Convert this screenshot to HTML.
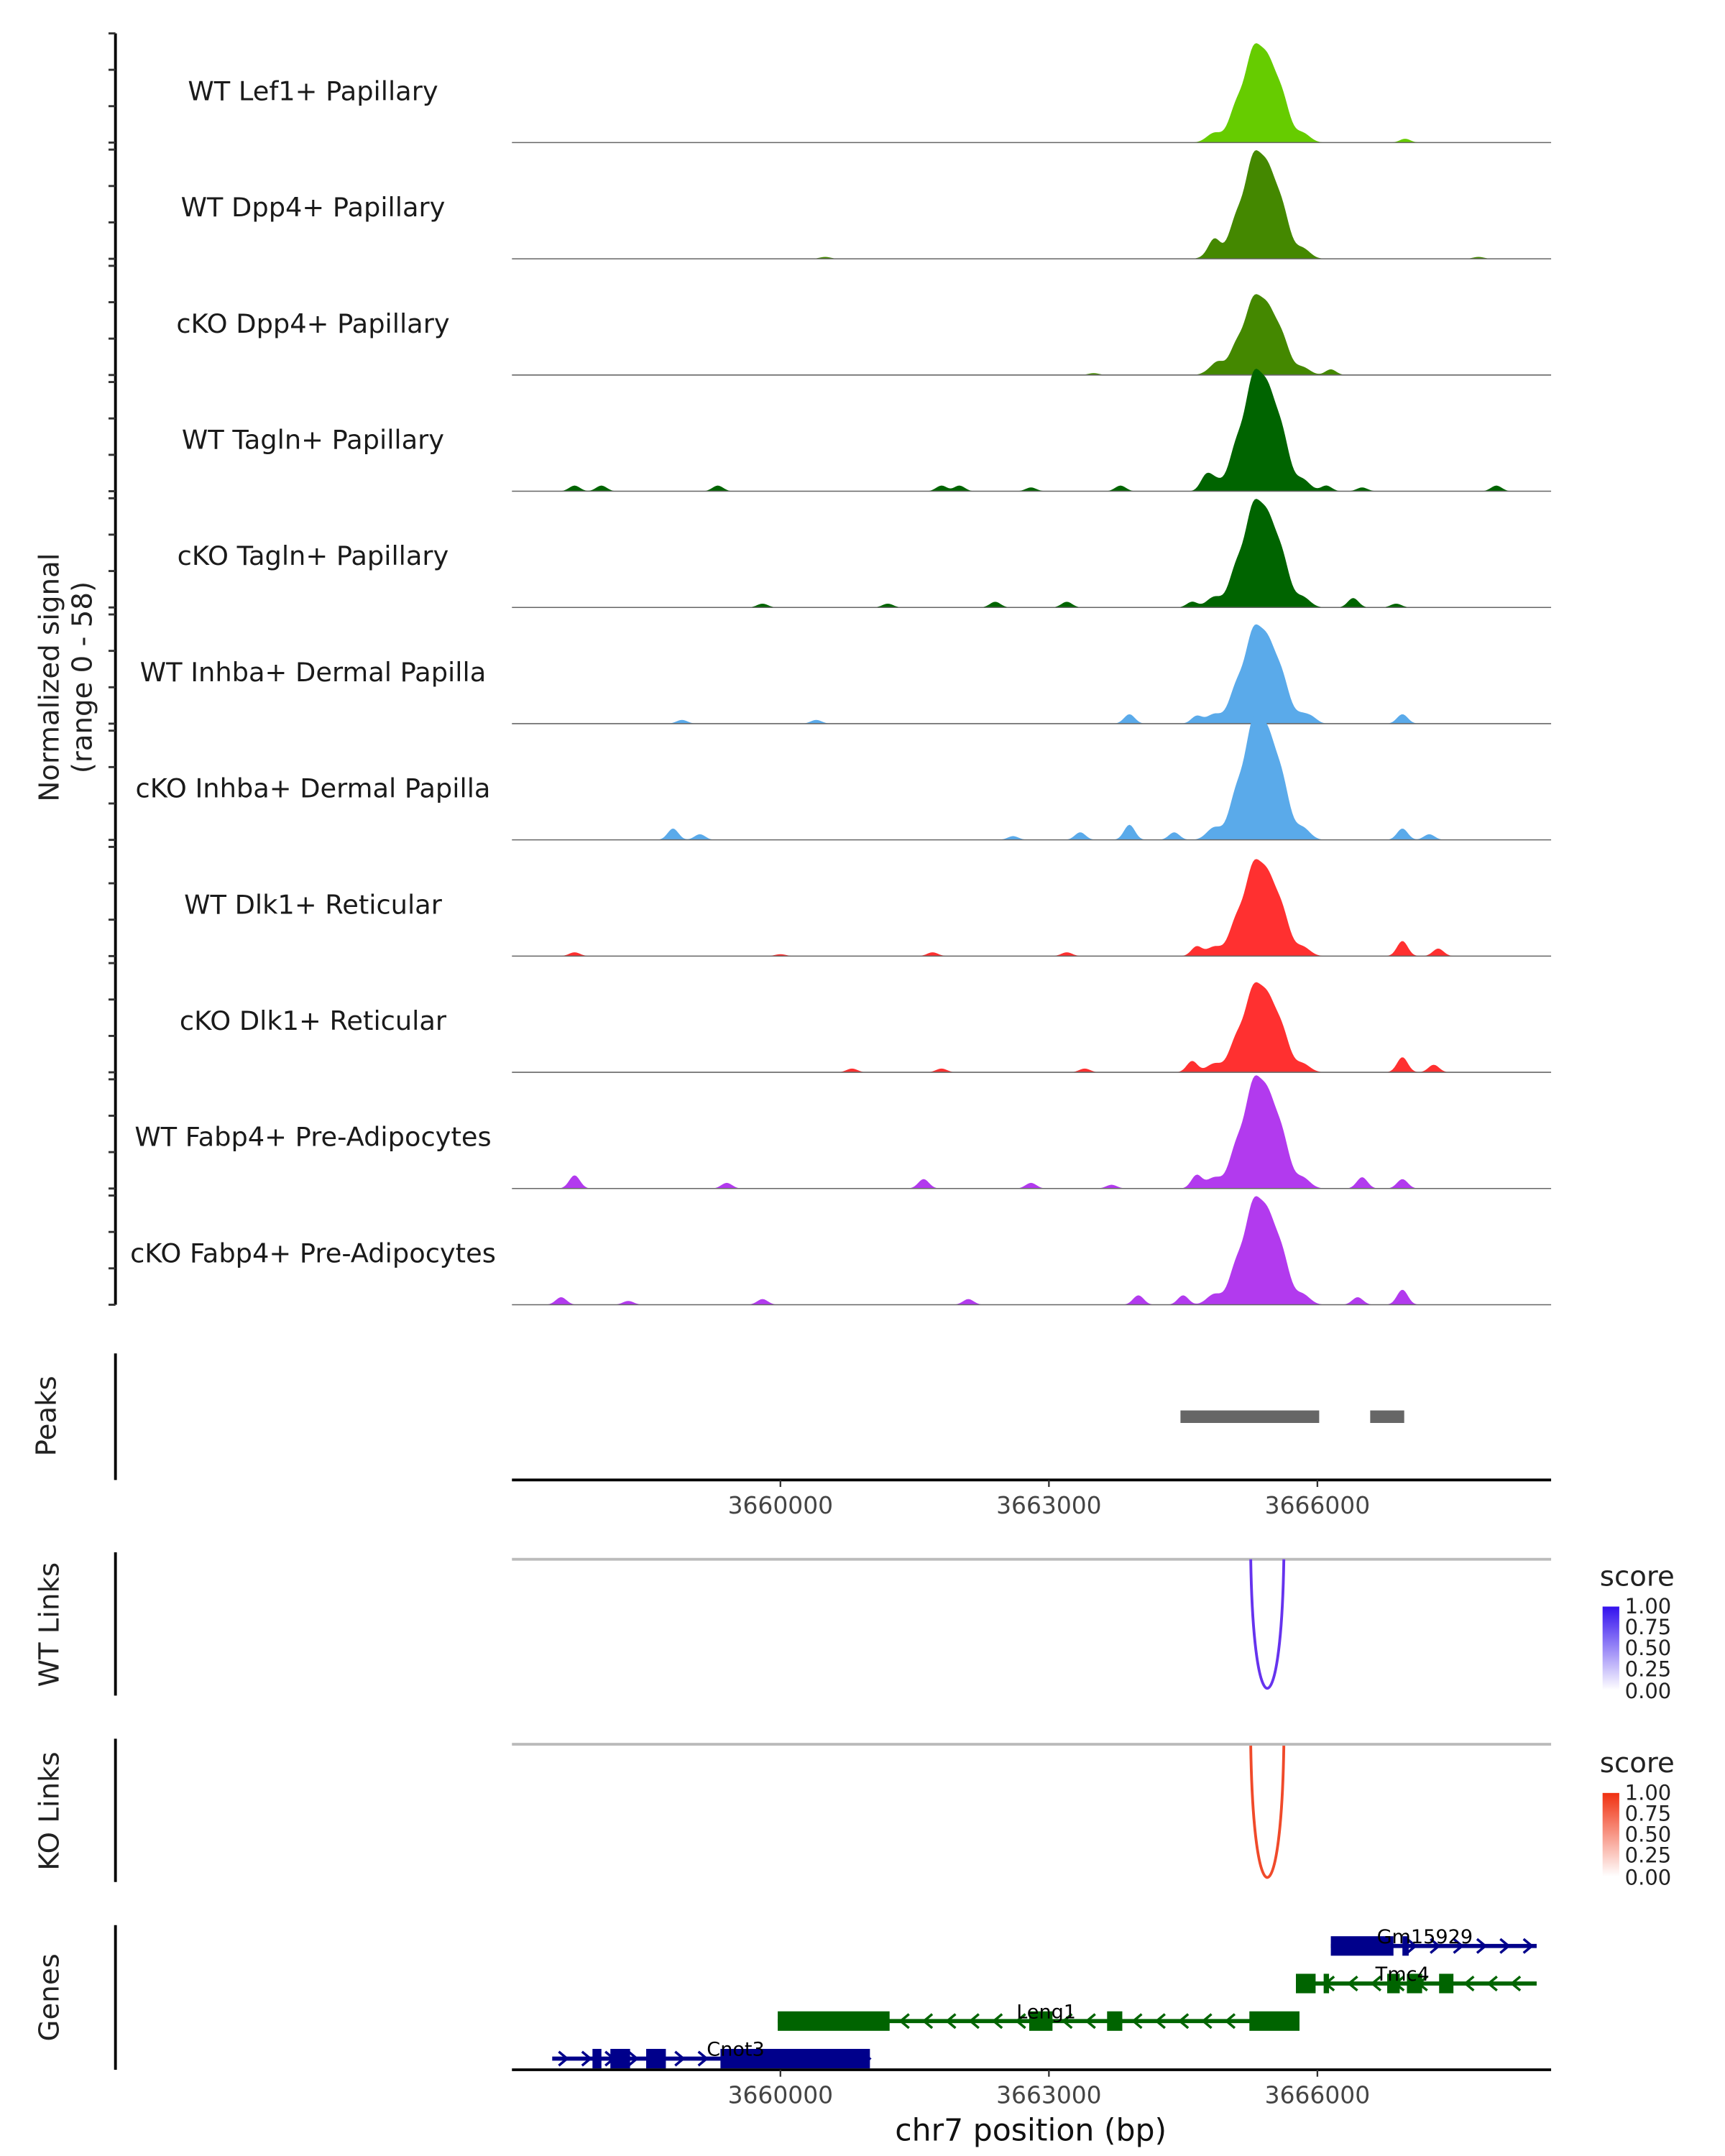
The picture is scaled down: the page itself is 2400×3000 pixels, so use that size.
<!DOCTYPE html>
<html><head><meta charset="utf-8"><style>
html,body{margin:0;padding:0;background:#fff;}
svg{display:block;font-family:"DejaVu Sans","Liberation Sans",sans-serif;}
</style></head><body>
<svg id="fig" width="2400" height="3000" viewBox="0 0 1240 1550" xmlns="http://www.w3.org/2000/svg">
<defs>
<linearGradient id="gb" x1="0" y1="1" x2="0" y2="0"><stop offset="0" stop-color="#ffffff"/><stop offset="1" stop-color="#3311ee"/></linearGradient>
<linearGradient id="gr" x1="0" y1="1" x2="0" y2="0"><stop offset="0" stop-color="#ffffff"/><stop offset="1" stop-color="#f03010"/></linearGradient>
</defs>
<g id="tracks"></g>
<text transform="translate(42,487) rotate(-90)" text-anchor="middle" font-size="20" fill="#222">Normalized signal</text>
<text transform="translate(66,487) rotate(-90)" text-anchor="middle" font-size="20" fill="#222">(range 0 - 58)</text>
<g id="peaks">
<line x1="83" y1="973" x2="83" y2="1064" stroke="#000" stroke-width="2"/>
<text transform="translate(40,1018) rotate(-90)" text-anchor="middle" font-size="20" fill="#222">Peaks</text>
</g>
<g id="xaxis1"></g>
<g id="links">
<line x1="83" y1="1116" x2="83" y2="1219" stroke="#000" stroke-width="2"/>
<text transform="translate(42,1168) rotate(-90)" text-anchor="middle" font-size="20" fill="#222">WT Links</text>
<line x1="368" y1="1121" x2="1115" y2="1121" stroke="#bbb" stroke-width="2"/>
<line x1="83" y1="1250" x2="83" y2="1353" stroke="#000" stroke-width="2"/>
<text transform="translate(42,1302) rotate(-90)" text-anchor="middle" font-size="20" fill="#222">KO Links</text>
<line x1="368" y1="1254" x2="1115" y2="1254" stroke="#bbb" stroke-width="2"/>
</g>
<g font-size="15" fill="#222">
<text x="1150" y="1140" font-size="20">score</text>
<rect x="1152" y="1155" width="12" height="60" fill="url(#gb)"/>
<text x="1168" y="1160">1.00</text><text x="1168" y="1175">0.75</text><text x="1168" y="1190">0.50</text><text x="1168" y="1205">0.25</text><text x="1168" y="1221">0.00</text>
</g>
<g font-size="15" fill="#222">
<text x="1150" y="1274" font-size="20">score</text>
<rect x="1152" y="1289" width="12" height="60" fill="url(#gr)"/>
<text x="1168" y="1294">1.00</text><text x="1168" y="1309">0.75</text><text x="1168" y="1324">0.50</text><text x="1168" y="1339">0.25</text><text x="1168" y="1355">0.00</text>
</g>
<g id="genes">
<line x1="83" y1="1384" x2="83" y2="1488" stroke="#000" stroke-width="2"/>
<text transform="translate(42,1436) rotate(-90)" text-anchor="middle" font-size="20" fill="#222">Genes</text>
</g>
<g id="xaxis2"></g>
<text x="741" y="1539" text-anchor="middle" font-size="22" fill="#111">chr7 position (bp)</text>
</svg>
<script>
const NS="http://www.w3.org/2000/svg";
const trackNames=["WT Lef1+ Papillary","WT Dpp4+ Papillary","cKO Dpp4+ Papillary","WT Tagln+ Papillary","cKO Tagln+ Papillary","WT Inhba+ Dermal Papilla","cKO Inhba+ Dermal Papilla","WT Dlk1+ Reticular","cKO Dlk1+ Reticular","WT Fabp4+ Pre-Adipocytes","cKO Fabp4+ Pre-Adipocytes"];
const trackColors=["#66cc00","#448800","#448800","#006400","#006400","#5aaaea","#5aaaea","#ff3030","#ff3030","#b23aee","#b23aee"];
const mainPeakHeights=[43,47,35,53,47,43,55,42,39,49,47];
const mainPeakPositions=[3664850,3665100,3665280,3665440,3665600,3665830];
const mainPeakShape=[0.12,0.45,1.0,0.85,0.55,0.12];
const bgPeaks=[
 [[3666980,2]],
 [[3664850,5],[3660500,1],[3667800,1]],
 [[3664900,3],[3666150,3],[3663500,1]],
 [[3657700,3],[3658000,3],[3659300,3],[3661800,3],[3662000,3],[3662800,2],[3663800,3],[3664750,6],[3666100,3],[3668000,3],[3666500,2]],
 [[3664600,3],[3663200,3],[3662400,3],[3666400,5],[3666880,2],[3659800,2],[3661200,2]],
 [[3663900,5],[3664650,4],[3665950,2],[3666950,5],[3658900,2],[3660400,2]],
 [[3658800,6],[3659100,3],[3663900,8],[3663350,4],[3664400,4],[3666950,6],[3667250,3],[3662600,2]],
 [[3657700,2],[3664650,5],[3666950,8],[3667350,4],[3660000,1],[3661700,2],[3663200,2]],
 [[3664600,6],[3666950,8],[3667300,4],[3661800,2],[3663400,2],[3660800,2]],
 [[3657700,7],[3661600,5],[3664650,7],[3666500,6],[3666950,5],[3659400,3],[3662800,3],[3663700,2]],
 [[3657550,4],[3664000,5],[3664500,5],[3666950,8],[3666450,4],[3659800,3],[3662100,3],[3658300,2]]
];
const xTicks=[3660000,3663000,3666000];
const peakRegions=[[3664470,3666020],[3666590,3666970]];
const wtLink=[3665255,3665625,1.0];
const koLink=[3665255,3665625,1.0];
const genes=[
 {name:"Gm15929",strand:1,color:"#00008b",row:0,start:3666150,end:3668450,exons:[[3666150,3666850],[3666950,3667020]],label:3667200},
 {name:"Tmc4",strand:-1,color:"#006400",row:1,start:3665760,end:3668450,exons:[[3665760,3665980],[3666070,3666130],[3666780,3666920],[3667000,3667170],[3667360,3667520]],label:3666950},
 {name:"Leng1",strand:-1,color:"#006400",row:2,start:3659970,end:3665800,exons:[[3659970,3661220],[3662780,3663040],[3663650,3663820],[3665240,3665800]],label:3662970},
 {name:"Cnot3",strand:1,color:"#00008b",row:3,start:3657450,end:3661000,exons:[[3657900,3658000],[3658100,3658320],[3658500,3658720],[3659330,3661000]],label:3659500}
];
const X0=368,X1=1115,BP0=3657000,BPPX=3000/193;
function xs(bp){return X0+(bp-BP0)/BPPX;}
const TRACK_TOP=24,TRACK_STEP=83.55,TRACK_H=78.5,YMAX=58;
function ys(v,base){return base-v/YMAX*TRACK_H;}
function el(tag,attrs,parent){const e=document.createElementNS(NS,tag);for(const k in attrs)e.setAttribute(k,attrs[k]);parent.appendChild(e);return e;}
const tg=document.getElementById('tracks');
el('line',{x1:83,y1:TRACK_TOP,x2:83,y2:TRACK_TOP+TRACK_STEP*10+TRACK_H,stroke:'#000','stroke-width':2},tg);
function signalAt(i,bp){
  let v=0;
  const h=mainPeakHeights[i];
  mainPeakPositions.forEach((p,j)=>{const d=(bp-p)/85;v+=h*mainPeakShape[j]*Math.exp(-d*d/2);});
  bgPeaks[i].forEach(b=>{const d=(bp-b[0])/60;v+=b[1]*Math.exp(-d*d/2);});
  return v;
}
trackNames.forEach((name,i)=>{
  const top=TRACK_TOP+i*TRACK_STEP, base=top+TRACK_H;
  const g=el('g',{},tg);
  
  
  for(let k=0;k<4;k++){el('line',{x1:78,x2:83,y1:top+k*TRACK_H/3,y2:top+k*TRACK_H/3,stroke:'#333','stroke-width':1.5},g);}
  const t=el('text',{x:225,y:top+48,'text-anchor':'middle','font-size':19,fill:'#1a1a1a'},g);
  t.textContent=name;
  let d='M'+X0+','+base;
  for(let bp=BP0;bp<=3668611;bp+=20){d+=' L'+xs(bp).toFixed(2)+','+ys(signalAt(i,bp),base).toFixed(2);}
  d+=' L'+X1+','+base+' Z';
  const p=el('path',{d:d,fill:trackColors[i]},g);
  
  
  el('line',{x1:X0,x2:X1,y1:base,y2:base,stroke:'#666','stroke-width':0.8},g);
});
const pg=document.getElementById('peaks');
peakRegions.forEach(r=>{
  const rc=el('rect',{x:xs(r[0]),y:1014,width:xs(r[1])-xs(r[0]),height:9,fill:'#666'},pg);
  
  
});
function axis(id,y,labels){
  const g=document.getElementById(id);
  el('line',{x1:X0,x2:X1,y1:y,y2:y,stroke:'#000','stroke-width':2},g);
  xTicks.forEach(b=>{
    el('line',{x1:xs(b),x2:xs(b),y1:y,y2:y+5,stroke:'#333','stroke-width':1.2},g);
    if(labels){const t=el('text',{x:xs(b),y:y+24,'text-anchor':'middle','font-size':17,fill:'#444'},g);t.textContent=b;
      
      }
  });
}
axis('xaxis1',1064,true);
axis('xaxis2',1488,true);
const lg=document.getElementById('links');
function arc(link,top,depth,color){
  const a=xs(link[0]),b=xs(link[1]);
  const p=el('path',{d:`M${a},${top} C${a+2},${top+depth*1.33} ${b-2},${top+depth*1.33} ${b},${top}`,fill:'none',stroke:color,'stroke-width':2*link[2]},lg);
  
  
}
arc(wtLink,1121,93,'#6633ee');
arc(koLink,1255,95,'#f04a2a');
const gg=document.getElementById('genes');
const rowY=[1399,1426,1453,1480];
genes.forEach(gn=>{
  const y=rowY[gn.row];
  const g=el('g',{},gg);
  
  
  el('line',{x1:xs(gn.start),x2:xs(gn.end),y1:y,y2:y,stroke:gn.color,'stroke-width':3},g);
  for(let bp=gn.start+120;bp<gn.end;bp+=260){
    const x=xs(bp),s=gn.strand*3;
    el('path',{d:`M${x-s},${y-5} L${x+s},${y} L${x-s},${y+5}`,fill:'none',stroke:gn.color,'stroke-width':1.8},g);
  }
  gn.exons.forEach(e=>{el('rect',{x:xs(e[0]),y:y-7,width:xs(e[1])-xs(e[0]),height:14,fill:gn.color},g);});
  const t=el('text',{x:xs(gn.label),y:y-2,'text-anchor':'middle','font-size':14,fill:'#000'},g);
  t.textContent=gn.name;
});
</script>
</body></html>
